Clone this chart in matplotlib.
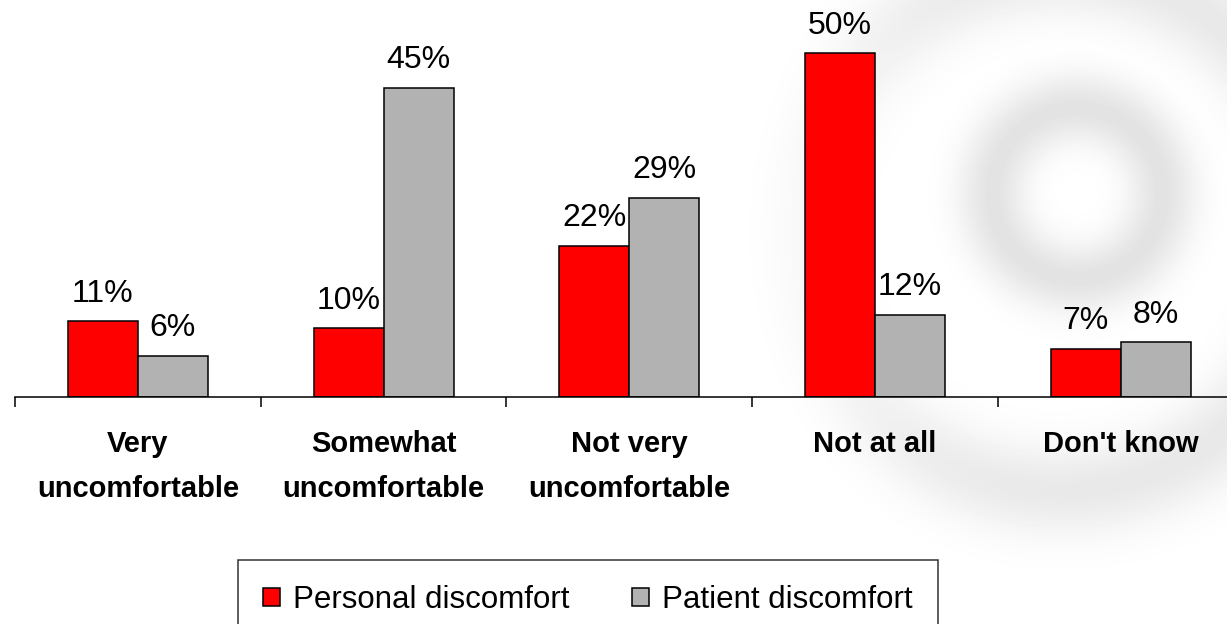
import numpy as np
import matplotlib
matplotlib.use('Agg')
import matplotlib.pyplot as plt

plt.rcParams['font.family'] = ['Liberation Sans', 'DejaVu Sans']

# -------- data -------- #
categories = ['Very\nuncomfortable', 'Somewhat\nuncomfortable', 'Not very\nuncomfortable',
              'Not at all', "Don't know"]
personal = [11, 10, 22, 50, 7]
patient = [6, 45, 29, 12, 8]
series_names = ['Personal discomfort', 'Patient discomfort']
colors = ['#ff0000', '#b2b2b2']

W, H = 1227, 624
fig = plt.figure(figsize=(W / 100, H / 100), dpi=100)

# -------- faint logo watermark in the background -------- #
bg = fig.add_axes([0, 0, 1, 1], zorder=-5)
yy, xx = np.mgrid[0:H, 0:W]
r1 = np.hypot(xx - 1077, yy - 193)
r2 = np.hypot(xx - 1060, yy - 230)
shade = 0.11 * np.exp(-((r1 - 85) / 35) ** 2)
fade = 1 / (1 + np.exp(-(xx - 850) / 60))
arc = 0.09 * np.exp(-((r2 - 260) / 45) ** 2) * fade
shade = np.maximum(shade, arc)
bg.imshow(1 - shade, cmap='gray', vmin=0, vmax=1, extent=[0, W, H, 0], aspect='auto')
bg.axis('off')

# -------- main bar chart -------- #
ax = fig.add_axes([15 / W, (H - 397) / H, 1228.5 / W, 378 / H])
ax.patch.set_alpha(0)
x = np.arange(len(categories))
w = 0.285
b1 = ax.bar(x - w / 2, personal, w, color=colors[0], edgecolor='black', linewidth=1.1,
            label=series_names[0])
b2 = ax.bar(x + w / 2, patient, w, color=colors[1], edgecolor='black', linewidth=1.1,
            label=series_names[1])
for bars, vals in ((b1, personal), (b2, patient)):
    for rect, v in zip(bars, vals):
        ax.annotate(f'{v}%', (rect.get_x() + rect.get_width() / 2, v),
                    xytext=(0, 9), textcoords='offset points',
                    ha='center', va='bottom', fontsize=23)

ax.set_xlim(-0.5, len(categories) - 0.5)
ax.set_ylim(0, 55)
for s in ('top', 'right', 'left'):
    ax.spines[s].set_visible(False)
ax.spines['bottom'].set_linewidth(1.1)
ax.set_yticks([])
ax.set_xticks(x)
ax.set_xticklabels(categories, fontsize=21, fontweight='bold', linespacing=1.75)
ax.tick_params(axis='x', which='major', length=0, pad=24)
ax.set_xticks(np.arange(len(categories)) - 0.5, minor=True)
ax.tick_params(axis='x', which='minor', length=7, width=1.1)

fig.legend(loc='upper center', bbox_to_anchor=(588 / W, 1 - 560 / H), ncol=2,
           fontsize=22.5, frameon=True, fancybox=False, edgecolor='black',
           borderpad=0.8, handlelength=0.55, handleheight=0.55, handletextpad=0.42,
           columnspacing=2.0, borderaxespad=0)
leg = fig.legends[0]
leg.get_frame().set_linewidth(1.1)

fig.savefig('out.png', dpi=100)
